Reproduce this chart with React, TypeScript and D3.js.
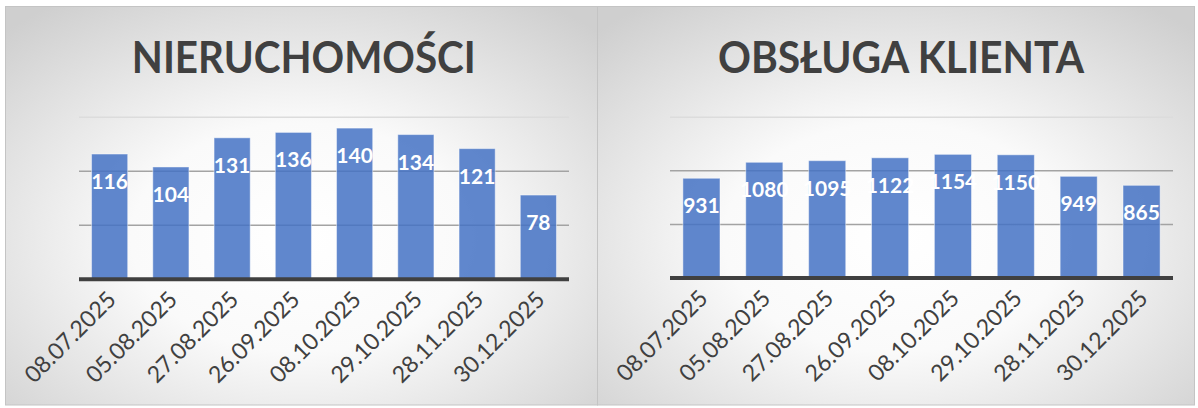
import React from 'react';
import * as d3 from 'd3';

// dates shared by both charts
const dates = [
  '08.07.2025', '05.08.2025', '27.08.2025', '26.09.2025',
  '08.10.2025', '29.10.2025', '28.11.2025', '30.12.2025',
];
const nieruchomosci = [116, 104, 131, 136, 140, 134, 121, 78];
const obslugaKlienta = [931, 1080, 1095, 1122, 1154, 1150, 949, 865];
const ticksLeft = [0, 50, 100, 150];
const ticksRight = [0, 500, 1000, 1500];

const FONT = 'Lato, Carlito, Calibri, sans-serif';

type PanelProps = {
  id: string;
  title: string;
  titleWidth: number;
  titleX: number;
  values: number[];
  ticks: number[];
  left: number;
  right: number;
  plotLeft: number;
  plotRight: number;
  baseline: number;
  top: number;
};

const Panel = ({ id, title, titleWidth, titleX, values, ticks, left, right, plotLeft, plotRight, baseline, top }: PanelProps) => {
  const x = d3.scaleBand<string>()
    .domain(dates)
    .range([plotLeft, plotRight])
    .paddingInner(0.41)
    .paddingOuter(0.205);

  const y = d3.scaleLinear()
    .domain([0, d3.max(ticks) as number])
    .range([baseline, top]);

  return (
    <g>
      <defs>
        <radialGradient id={id} cx="50%" cy="58%" r="72%" fx="50%" fy="58%">
          <stop offset="0" stopColor="#ffffff" />
          <stop offset="0.4" stopColor="#fafafa" />
          <stop offset="1" stopColor="#cfcfcf" />
        </radialGradient>
      </defs>
      <rect x={left} y={6.5} width={right - left} height={398.5} fill={`url(#${id})`} stroke="#c4c4c4" strokeWidth={1} />

      <text
        x={titleX}
        y={72.7}
        textAnchor="middle"
        fontFamily={FONT}
        fontWeight="bold"
        fontSize={44}
        fill="#404040"
        textLength={titleWidth}
        lengthAdjust="spacingAndGlyphs"
      >
        {title}
      </text>

      {/* gridlines */}
      {ticks.slice(1).map((t, i) => (
        <line
          key={t}
          x1={plotLeft}
          x2={plotRight}
          y1={y(t)}
          y2={y(t)}
          stroke={i === ticks.length - 2 ? '#dcdcdc' : '#a3a3a3'}
          strokeWidth={1.5}
        />
      ))}

      {/* bars */}
      {values.map((v, i) => (
        <rect
          key={dates[i]}
          x={x(dates[i])}
          y={y(v)}
          width={x.bandwidth()}
          height={baseline - y(v)}
          fill="#4472c4"
          fillOpacity={0.85}
          stroke="#ffffff"
          strokeOpacity={0.45}
          strokeWidth={1}
        />
      ))}

      {/* axis line */}
      <line x1={plotLeft} x2={plotRight} y1={baseline} y2={baseline} stroke="#404040" strokeWidth={4} />

      {/* value labels */}
      {values.map((v, i) => (
        <text
          key={'l' + dates[i]}
          x={(x(dates[i]) as number) + x.bandwidth() / 2}
          y={y(v) + 35}
          textAnchor="middle"
          fontFamily={FONT}
          fontWeight="bold"
          fontSize={21}
          fill="#ffffff"
        >
          {v}
        </text>
      ))}

      {/* category labels */}
      {dates.map(d => {
        const cx = (x(d) as number) + x.bandwidth() / 2;
        return (
          <text
            key={'d' + d}
            transform={`translate(${cx + 2},${baseline + 16}) rotate(-45)`}
            textAnchor="end"
            dy="0.35em"
            fontFamily={FONT}
            fontSize={23}
            fill="#404040"
          >
            {d}
          </text>
        );
      })}
    </g>
  );
};

const App = () => {
  return (
    <div style={{ position: 'absolute', left: 0, top: 0 }}>
      <svg width={1198} height={408} style={{ display: 'block', background: '#ffffff' }}>
        <Panel
          id="bgLeft"
          title="NIERUCHOMOŚCI"
          titleWidth={344}
          titleX={303.8}
          values={nieruchomosci}
          ticks={ticksLeft}
          left={5.5}
          right={597.5}
          plotLeft={79}
          plotRight={569}
          baseline={279.3}
          top={117.3}
        />
        <Panel
          id="bgRight"
          title="OBSŁUGA KLIENTA"
          titleWidth={366}
          titleX={901}
          values={obslugaKlienta}
          ticks={ticksRight}
          left={597.5}
          right={1194.5}
          plotLeft={670}
          plotRight={1173}
          baseline={278}
          top={117.3}
        />
      </svg>
    </div>
  );
};

export default App;
